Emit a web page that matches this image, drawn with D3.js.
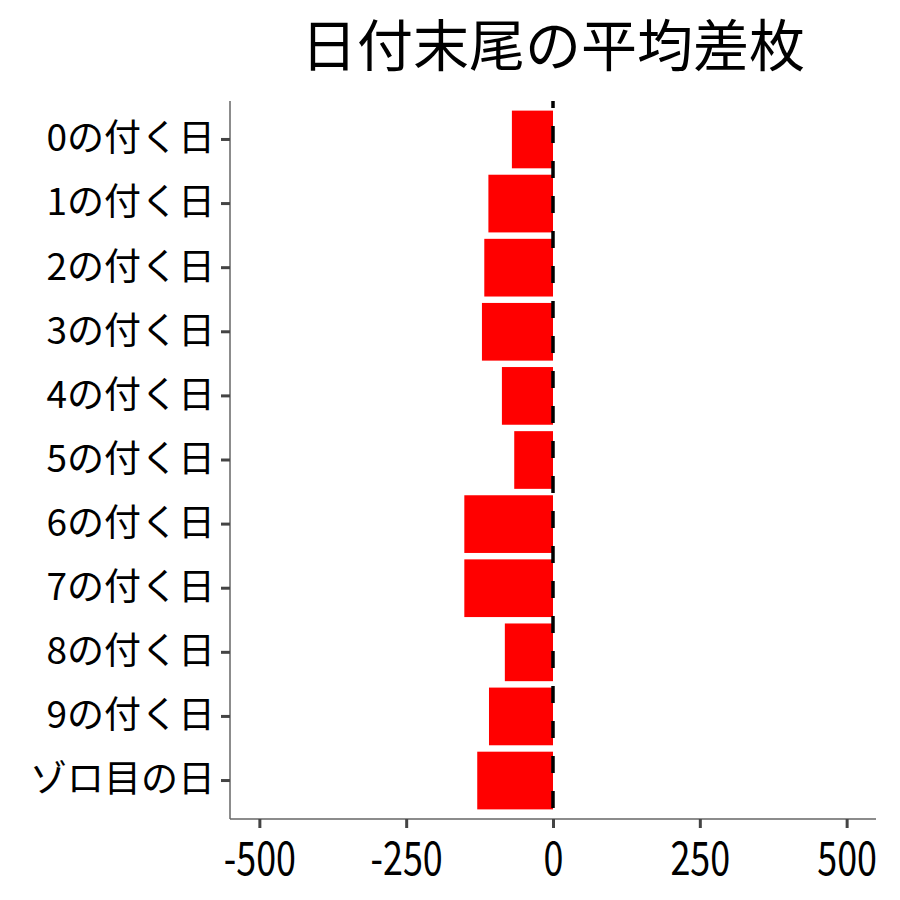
<!DOCTYPE html>
<html>
<head>
<meta charset="utf-8">
<script src="https://cdn.jsdelivr.net/npm/d3@7"></script>
<style>
  body { margin: 0; background: #fff; }
  text { font-family: "Noto Sans CJK JP", "Noto Sans", sans-serif; }
</style>
</head>
<body>
<script>
// categories top to bottom, and mean difference for each
let categories = ["0の付く日", "1の付く日", "2の付く日", "3の付く日", "4の付く日",
    "5の付く日", "6の付く日", "7の付く日", "8の付く日", "9の付く日", "ゾロ目の日"];
let values = [-70, -110, -117, -121, -87, -66, -151, -151, -82, -109, -129];
let xTicks = [-500, -250, 0, 250, 500];
let title = "日付末尾の平均差枚";

let width = 900;
let height = 900;
let plot = { left: 230, right: 876, top: 101, bottom: 819 };

let svg = d3.select("body").append("svg")
    .attr("width", width)
    .attr("height", height);

let data = categories.map((c, i) => ({ cat: c, value: values[i] }));

let x = d3.scaleLinear()
    .domain([-550, 550])
    .range([plot.left, plot.right]);

// ggplot style spacing: 0.6 units of space at each end, bars 0.9 wide
let y = d3.scaleBand()
    .domain(categories)
    .range([plot.top, plot.bottom])
    .paddingInner(0.1)
    .paddingOuter(0.15);

svg.append("g").selectAll("rect")
    .data(data)
    .join("rect")
    .attr("x", d => x(Math.min(0, d.value)))
    .attr("y", d => y(d.cat))
    .attr("width", d => Math.abs(x(d.value) - x(0)))
    .attr("height", y.bandwidth())
    .attr("fill", "#ff0000");

// dashed reference line at zero
svg.append("line")
    .attr("x1", x(0)).attr("x2", x(0))
    .attr("y1", plot.top).attr("y2", plot.bottom)
    .attr("stroke", "#000")
    .attr("stroke-width", 3.5)
    .attr("stroke-dasharray", "17,18")
    .attr("stroke-dashoffset", 10);

// x axis (plain hyphen for negatives, like the original)
let xAxisGroup = svg.append("g")
    .attr("transform", "translate(0," + plot.bottom + ")");
xAxisGroup.call(d3.axisBottom(x).tickValues(xTicks).tickFormat(d => String(d))
    .tickSize(9).tickPadding(14).tickSizeOuter(0));
xAxisGroup.select(".domain").attr("stroke", "#666").attr("stroke-width", 1.5)
    .attr("d", "M" + plot.left + ",0H" + plot.right);
xAxisGroup.selectAll(".tick line").attr("stroke", "#444").attr("stroke-width", 3);
// the original's numbers are tall and narrow, so squeeze them horizontally
xAxisGroup.selectAll(".tick text")
    .attr("fill", "#000")
    .attr("font-size", 46)
    .attr("transform", "scale(0.78,1)")
    .attr("font-family", "'Noto Sans CJK JP', sans-serif");

// y axis
let yAxisGroup = svg.append("g")
    .attr("transform", "translate(" + plot.left + ",0)");
yAxisGroup.call(d3.axisLeft(y).tickSize(9).tickPadding(6).tickSizeOuter(0));
yAxisGroup.select(".domain").attr("stroke", "#666").attr("stroke-width", 1.5)
    .attr("d", "M0," + plot.top + "V" + plot.bottom);
yAxisGroup.selectAll(".tick line").attr("stroke", "#444").attr("stroke-width", 3);
yAxisGroup.selectAll(".tick text")
    .attr("fill", "#000")
    .attr("font-size", 37)
    .attr("font-family", "'Noto Sans CJK JP', sans-serif");

// title centred over the panel
svg.append("text")
    .attr("x", (plot.left + plot.right) / 2)
    .attr("y", 66)
    .attr("text-anchor", "middle")
    .attr("font-size", 56)
    .attr("fill", "#000")
    .text(title);
</script>
</body>
</html>
